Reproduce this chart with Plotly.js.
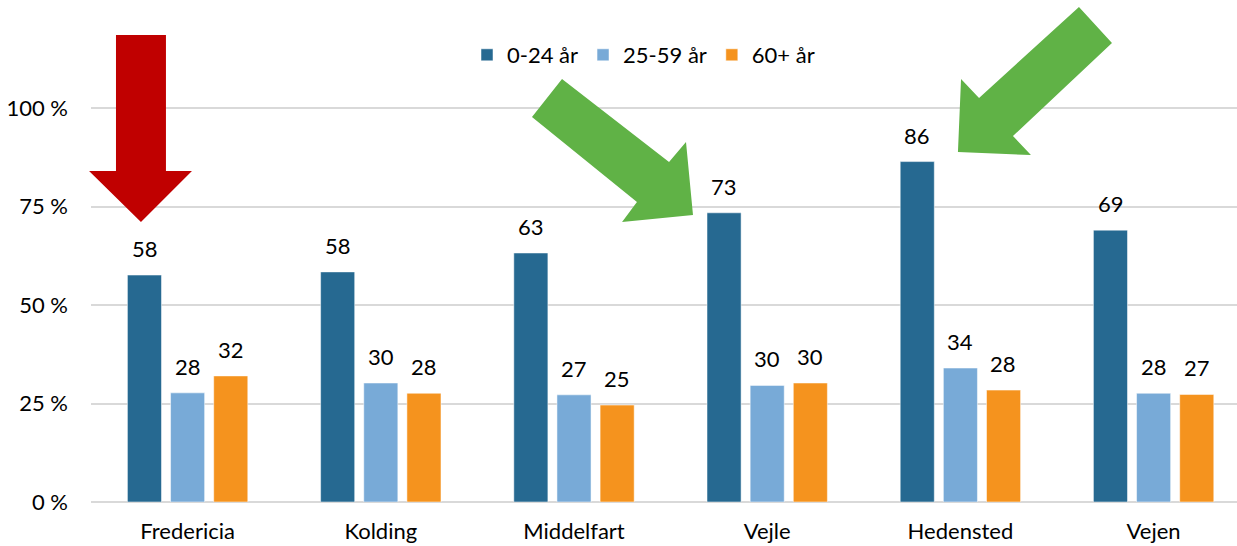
<!DOCTYPE html>
<html>
<head>
<meta charset="utf-8">
<script src="https://cdn.plot.ly/plotly-3.0.1.min.js"></script>
<style>
  body { margin: 0; background: #fff; }
  #chart { width: 1237px; height: 546px; }
</style>
</head>
<body>
<div id="chart"></div>
<script>
let kommuner = ["Fredericia", "Kolding", "Middelfart", "Vejle", "Hedensted", "Vejen"];
let ung = [57.6, 58.4, 63.2, 73.4, 86.4, 69.0];      // 0-24 år
let voksen = [27.7, 30.2, 27.2, 29.6, 34.0, 27.6];   // 25-59 år
let aeldre = [32.0, 27.6, 24.6, 30.2, 28.4, 27.3];   // 60+ år
let serieNavne = ["0-24 år", "25-59 år", "60+ år"];
let farver = ["#266991", "#78AAD7", "#F5931E"];
let yTicks = [0, 25, 50, 75, 100];
let yTickText = yTicks.map(v => v + " %");

let font = "Lato, 'Open Sans', sans-serif";
let fs = 22;

// plot area in pixels (used to place the arrows)
let L = 91, B = 44, W = 1237 - L, H = 546 - B;
function px(x, y) {
  return ((x - L) / W).toFixed(4) + "," + ((546 - B - y) / H).toFixed(4);
}
function arrow(points) {
  return "M" + points.map(p => px(p[0], p[1])).join("L") + "Z";
}

let serier = [ung, voksen, aeldre];
let data = serier.map((vals, i) => ({
  type: "bar",
  name: serieNavne[i],
  x: kommuner,
  y: vals,
  marker: { color: farver[i], line: { color: "rgba(255,255,255,0.5)", width: 1 } },
  hoverinfo: "skip",
}));

// data labels above each bar
let annotations = [];
serier.forEach((vals, i) => {
  vals.forEach((v, j) => {
    annotations.push({
      x: kommuner[j], y: v, xref: "x", yref: "y",
      text: Math.round(v).toString(),
      showarrow: false, yanchor: "bottom",
      xshift: (i - 1) * 43, yshift: 11,
      font: { family: font, size: fs, color: "#000" },
    });
  });
});

let shapes = [
  { type: "path", xref: "paper", yref: "paper", fillcolor: "#C00000", line: { width: 0 },
    path: arrow([[116, 35], [166, 35], [166, 171], [192, 171], [141, 222], [89, 171], [116, 171]]) },
  { type: "path", xref: "paper", yref: "paper", fillcolor: "#60B246", line: { width: 0 },
    path: arrow([[562, 79], [669, 162], [686, 142], [693, 215], [622, 222], [637, 202], [532, 117]]) },
  { type: "path", xref: "paper", yref: "paper", fillcolor: "#60B246", line: { width: 0 },
    path: arrow([[1079, 7], [979, 98], [961, 79], [958, 152], [1031, 155], [1013, 136], [1112, 43]]) },
];

let layout = {
  width: 1237,
  height: 546,
  margin: { l: L, r: 0, t: 0, b: B },
  paper_bgcolor: "#fff",
  plot_bgcolor: "#fff",
  font: { family: font, size: fs, color: "#000" },
  barmode: "group",
  bargap: 0.33,
  bargroupgap: 0.21,
  showlegend: true,
  legend: {
    orientation: "h",
    x: (467 - L) / W, xanchor: "left",
    y: (546 - B - 55) / H, yanchor: "middle",
    font: { family: font, size: fs, color: "#000" },
    bgcolor: "rgba(0,0,0,0)",
  },
  xaxis: {
    type: "category",
    range: [-0.5, -0.5 + W / 193.2],
    showgrid: false,
    showline: false,
    zeroline: false,
    ticks: "",
    ticklabelstandoff: 14,
    tickfont: { family: font, size: fs, color: "#000" },
  },
  yaxis: {
    range: [0, H / 3.94],
    tickmode: "array",
    tickvals: yTicks,
    ticktext: yTickText,
    showgrid: true,
    gridcolor: "#D9D9D9",
    gridwidth: 2,
    zeroline: true,
    zerolinecolor: "#D9D9D9",
    zerolinewidth: 2,
    showline: false,
    ticks: "",
    ticklabelstandoff: 22,
    tickfont: { family: font, size: fs, color: "#000" },
  },
  annotations: annotations,
  shapes: shapes,
};

Plotly.newPlot("chart", data, layout, { displayModeBar: false, staticPlot: true });
</script>
</body>
</html>
